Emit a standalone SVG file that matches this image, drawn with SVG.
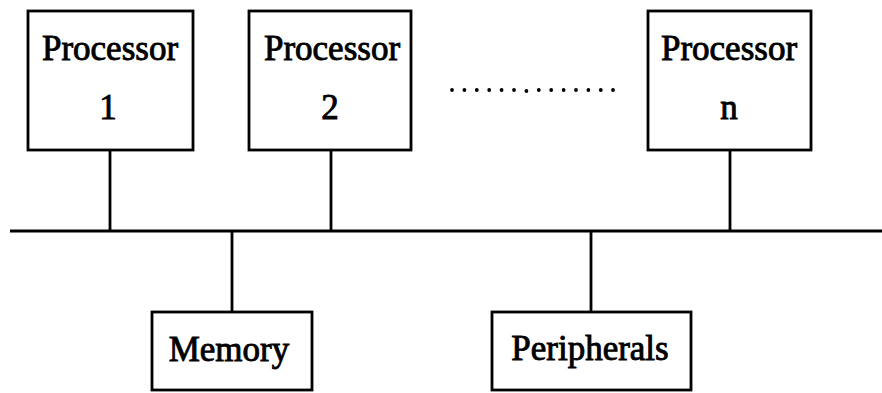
<svg xmlns="http://www.w3.org/2000/svg" width="882" height="393" viewBox="0 0 882 393">
<style>
.box{fill:#fff;stroke:#000;stroke-width:2.8}
.wire{stroke:#000;stroke-width:2.8;fill:none}
.lbl{font-family:"Liberation Serif","Times New Roman",serif;font-size:35px;fill:#000;stroke:#000;stroke-width:0.9;text-anchor:middle}
</style>
<rect width="882" height="393" fill="#fff"/>
<g id="connectors">
<line class="wire" x1="10" y1="231" x2="882" y2="231"/>
<line class="wire" x1="110" y1="150" x2="110" y2="231"/>
<line class="wire" x1="331" y1="150" x2="331" y2="231"/>
<line class="wire" x1="730" y1="150" x2="730" y2="231"/>
<line class="wire" x1="232" y1="231" x2="232" y2="312"/>
<line class="wire" x1="591" y1="231" x2="591" y2="312"/>
</g>
<g id="processor1">
<rect class="box" x="28" y="11" width="165" height="139"/>
<text class="lbl" x="110" y="60">Processor</text>
<text class="lbl" x="108" y="119">1</text>
</g>
<g id="processor2">
<rect class="box" x="249" y="11" width="162" height="139"/>
<text class="lbl" x="332" y="60">Processor</text>
<text class="lbl" x="330" y="119">2</text>
</g>
<g id="ellipsis">
<g fill="#000">
<circle cx="452" cy="90" r="1.9"/><circle cx="464.4" cy="90" r="1.9"/><circle cx="476.8" cy="90" r="1.9"/><circle cx="489.2" cy="90" r="1.9"/><circle cx="501.6" cy="90" r="1.9"/><circle cx="514" cy="90" r="1.9"/><circle cx="526.4" cy="91" r="1.9"/><circle cx="538.8" cy="90" r="1.9"/><circle cx="551.2" cy="90" r="1.9"/><circle cx="563.6" cy="90" r="1.9"/><circle cx="576" cy="90" r="1.9"/><circle cx="588.4" cy="90" r="1.9"/><circle cx="600.8" cy="90" r="1.9"/><circle cx="613" cy="90" r="1.9"/>
</g>
</g>
<g id="processorn">
<rect class="box" x="648" y="11" width="163" height="139"/>
<text class="lbl" x="729" y="60">Processor</text>
<text class="lbl" x="729" y="119">n</text>
</g>
<g id="memory">
<rect class="box" x="152" y="312" width="160" height="78"/>
<text class="lbl" x="229" y="361">Memory</text>
</g>
<g id="peripherals">
<rect class="box" x="492" y="312" width="199" height="78"/>
<text class="lbl" x="590" y="360">Peripherals</text>
</g>
</svg>
